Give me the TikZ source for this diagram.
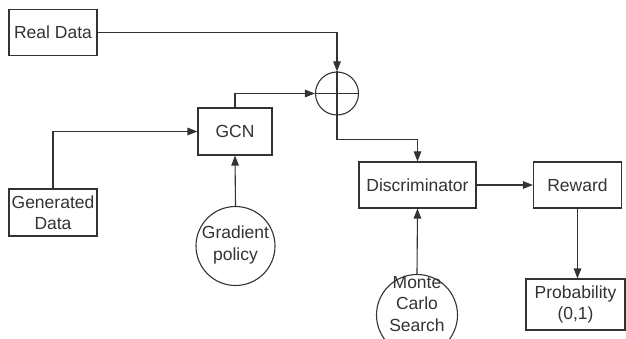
\documentclass[tikz,border=0pt]{standalone}
\usepackage{fontspec}
\setmainfont{Liberation Sans}
\usetikzlibrary{arrows.meta}
\definecolor{ink}{HTML}{333333}
\begin{document}
\begin{tikzpicture}[x=1pt,y=-1pt,
  every node/.style={text=ink,font=\fontsize{17.5}{21.5}\selectfont},
  box/.style={draw=ink,line width=1.1pt,inner sep=0pt,align=center},
  ring/.style={draw=ink,line width=1.1pt,circle,inner sep=0pt},
  arr/.style={draw=ink,line width=1.1pt,-{Triangle[length=10pt,width=7.5pt]}},
  ln/.style={draw=ink,line width=1.1pt}]
\useasboundingbox (0,0) rectangle (626,339);
\clip (0,0) rectangle (626,339);
\fill[white] (0,0) rectangle (626,339);
\node[box,minimum width=88pt,minimum height=46pt] (real) at (53,32.5) {Real Data};
\node[box,minimum width=88pt,minimum height=47pt] (gen) at (53,212.5) {Generated\\Data};
\node[box,minimum width=74pt,minimum height=47pt] (gcn) at (235,131.5) {GCN};
\node[ring,minimum size=43pt] (plus) at (337,93.5) {};
\node[ring,minimum size=79pt,label={[align=center,yshift=1pt]center:Gradient\\policy}] (grad) at (235.5,246) {};
\node[box,minimum width=117pt,minimum height=46pt] (disc) at (417.5,185) {Discriminator};
\node[box,minimum width=88pt,minimum height=46pt] (reward) at (577.5,185) {Reward};
\node[ring,minimum size=81pt,label={[align=center,yshift=11pt]center:Monte\\Carlo\\Search}] (monte) at (417,315) {};
\node[box,minimum width=99pt,minimum height=51pt] (prob) at (575.5,304.5) {Probability\\(0,1)};
\draw[ln] (plus.north) -- (plus.south);
\draw[ln] (plus.west) -- (plus.east);
\draw[arr] (real.east) -| (plus.north);
\draw[arr] (gcn.north) |- (plus.west);
\draw[arr] (gen.north) |- (gcn.west);
\draw[arr] (grad.north) -- (gcn.south);
\draw[arr] (plus.south) -- ++(0,24) -| (disc.north);
\draw[arr] (disc.east) -- (reward.west);
\draw[arr] (monte.north) -- (disc.south);
\draw[arr] (reward.south) -- (reward.south |- prob.north);
\end{tikzpicture}
\end{document}
